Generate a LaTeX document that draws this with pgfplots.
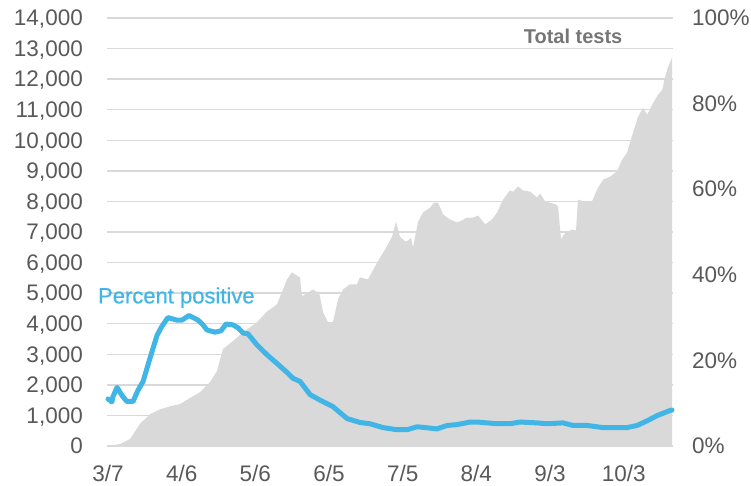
\documentclass[border=0pt]{standalone}
\usepackage{fontspec}
\setmainfont{Liberation Sans}
\newfontfamily\medfont[FakeBold=0.6]{Liberation Sans}
\usepackage{pgfplots}
\pgfplotsset{compat=1.18}
\definecolor{areagray}{RGB}{217,217,217}
\definecolor{gridgray}{RGB}{217,217,217}
\definecolor{lineblue}{RGB}{65,182,230}
\definecolor{ticktext}{RGB}{89,89,89}
\definecolor{titlegray}{RGB}{118,118,118}
\begin{document}
\begin{tikzpicture}
\begin{axis}[
  name=main,
  scale only axis,
  width=566bp, height=428bp,
  xmin=-0.4, xmax=230.1,
  ymin=0, ymax=14000,
  axis x line=none,
  axis y line*=left,
  axis line style={draw=none},
  major tick length=0pt,
  ytick={0,1000,...,14000},
  ymajorgrids,
  grid style={gridgray, line width=1.5bp},
  /pgf/number format/assume math mode=true,
  /pgf/number format/1000 sep={,},
  scaled y ticks=false,
  yticklabel style={anchor=east, inner sep=0pt, xshift=-24bp, text depth=0pt,
    font=\fontsize{22.5bp}{27bp}\selectfont, text=ticktext},
  clip=false,
]
\addplot[fill=areagray, draw=none] table {
x y
0 0
4.9 65
9.0 230
13.0 720
17.1 1040
21.2 1200
25.3 1300
29.3 1370
33.4 1570
37.5 1760
41.5 2090
44.4 2450
46.8 3170
50.9 3430
55.0 3720
60.7 4050
64.8 4400
68.8 4630
71.3 5120
72.9 5450
74.9 5680
77.4 5550
78.2 5520
79.0 4900
82.3 5060
83.5 5120
85.1 5030
85.9 5060
87.6 4370
89.6 4050
91.6 4050
93.7 4800
95.7 5120
98.6 5290
101.4 5290
102.6 5520
105.9 5450
109.6 6000
113.6 6530
115.7 6850
117.3 7340
118.9 6850
121.0 6690
122.2 6720
123.4 6820
124.2 6500
126.3 7340
128.3 7640
131.2 7800
132.8 7960
134.4 7960
136.5 7570
139.3 7410
142.2 7310
144.2 7380
146.2 7470
148.7 7470
150.7 7540
153.6 7250
156.4 7410
158.5 7640
160.9 8060
163.7 8360
165.0 8320
167.0 8490
169.0 8360
171.9 8320
174.7 8130
176.0 8260
178.0 8000
180.0 7960
182.5 7900
183.3 7830
184.5 6760
186.2 6980
189.0 7080
190.6 7050
191.4 8060
193.5 8000
197.1 8000
199.2 8390
201.6 8710
204.5 8810
207.3 8980
209.4 9370
211.4 9600
213.8 10250
215.9 10770
217.9 11060
219.6 10840
221.6 11160
224.0 11490
225.7 11650
226.9 12080
228.1 12400
229.7 12700
} \closedcycle;
\node[anchor=center, inner sep=0pt, text=titlegray, font=\fontsize{20bp}{24bp}\selectfont\bfseries] at (axis cs:189.4,13414) {Total tests};
\node[anchor=base west, inner sep=0pt, text=lineblue, font=\fontsize{22bp}{26bp}\selectfont\medfont] at (axis cs:-4.1,4667) {Percent positive};
\end{axis}
\begin{axis}[
  scale only axis,
  width=566bp, height=428bp,
  xmin=-0.4, xmax=230.1,
  ymin=0, ymax=100,
  axis x line*=bottom,
  axis y line*=right,
  axis line style={draw=none},
  major tick length=0pt,
  xtick={0,30,60,90,120,150,180,210},
  xticklabels={3/7,4/6,5/6,6/5,7/5,8/4,9/3,10/3},
  ytick={0,20,...,100},
  yticklabel={\pgfmathprintnumber{\tick}\%},
  /pgf/number format/assume math mode=true,
  yticklabel style={anchor=west, inner sep=0pt, xshift=19bp,
    font=\fontsize{22.5bp}{27bp}\selectfont, text=ticktext},
  xticklabel style={anchor=north, inner sep=0pt, yshift=-19bp,
    font=\fontsize{22.5bp}{27bp}\selectfont, text=ticktext},
  clip=false,
]
\addplot[lineblue, line width=5bp, line join=round, line cap=round] table {
x y
0 11.0
1.6 10.3
2.0 11.5
3.7 13.7
5.7 11.8
7.7 10.4
10.2 10.4
12.2 13.0
14.3 15.1
17.1 20.5
20.0 25.9
22.0 28.0
24.4 30.0
28.1 29.4
30.1 29.4
33.0 30.5
36.7 29.4
38.7 28.3
40.3 27.1
43.6 26.6
46.0 26.9
48.1 28.5
50.9 28.3
53.0 27.6
55.0 26.4
57.0 26.2
60.7 23.6
64.8 21.3
68.8 19.3
72.9 17.2
75.4 15.8
78.2 15.1
82.3 12.0
86.4 10.7
91.6 9.2
97.4 6.4
102.6 5.5
106.7 5.2
112.0 4.3
117.7 3.8
121.8 3.8
125.9 4.5
134.0 4.0
138.1 4.8
142.2 5.0
147.5 5.6
150.3 5.6
158.5 5.2
163.7 5.2
167.8 5.6
174.7 5.4
178.8 5.2
185.3 5.4
189.4 4.8
195.1 4.8
201.6 4.3
211.4 4.3
215.5 4.8
219.6 5.9
223.6 7.1
228.9 8.3
229.7 8.4
};
\end{axis}
\pgfresetboundingbox
\path[use as bounding box] ([xshift=-107bp,yshift=-40bp]main.south west) rectangle ([xshift=78bp,yshift=18bp]main.north east);
\end{tikzpicture}
\end{document}
